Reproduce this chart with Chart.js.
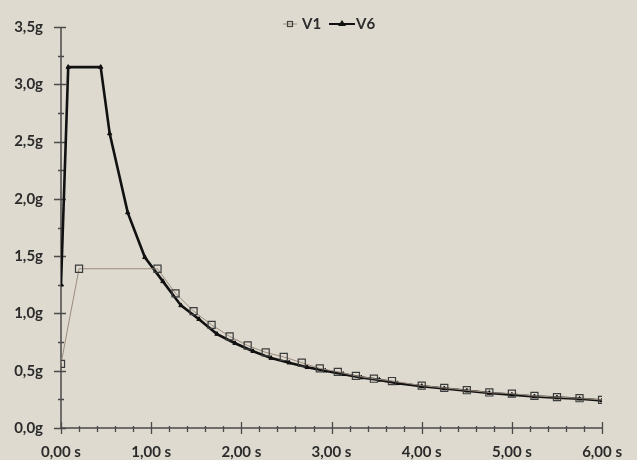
<!DOCTYPE html>
<html><head><meta charset="utf-8">
<script src="https://cdn.jsdelivr.net/npm/chart.js@4/dist/chart.umd.min.js"></script>
<style>html,body{margin:0;padding:0;background:#dedacf}</style>
</head><body>
<canvas id="c" width="637" height="460"></canvas>
<script>
const seriesNames = ['V1', 'V6'];
const v1Time   = [0, 0.2, 1.07, 1.27, 1.47, 1.67, 1.87, 2.07, 2.27, 2.47, 2.67, 2.87, 3.07, 3.27, 3.47, 3.67, 4.0, 4.25, 4.5, 4.75, 5.0, 5.25, 5.5, 5.75, 6.0];
const v1Values = [0.56, 1.39, 1.39, 1.175, 1.02, 0.90, 0.80, 0.72, 0.66, 0.62, 0.57, 0.52, 0.49, 0.455, 0.43, 0.41, 0.37, 0.35, 0.33, 0.31, 0.30, 0.28, 0.27, 0.26, 0.245];
const v6Time   = [0, 0.08, 0.44, 0.54, 0.74, 0.93, 1.13, 1.33, 1.53, 1.73, 1.93, 2.13, 2.33, 2.53, 2.73, 2.93, 3.13, 3.33, 3.53, 3.73, 4.0, 4.25, 4.5, 4.75, 5.0, 5.25, 5.5, 5.75, 6.0];
const v6Values = [1.25, 3.15, 3.15, 2.57, 1.88, 1.49, 1.28, 1.07, 0.95, 0.82, 0.74, 0.67, 0.61, 0.57, 0.53, 0.50, 0.47, 0.44, 0.42, 0.39, 0.365, 0.345, 0.325, 0.305, 0.29, 0.275, 0.265, 0.255, 0.24];
const xTickValues = [0, 1, 2, 3, 4, 5, 6];
const yTickValues = [0, 0.5, 1.0, 1.5, 2.0, 2.5, 3.0, 3.5];

const BG = '#dedacf';
const AX = '#4a4a4a';
const TXT = '#2b2b2b';
const FONT = { family: 'Lato', size: 15, weight: 'bold' };

const toPts = (t, v) => t.map((x, i) => ({x: x, y: v[i]}));

const axisPlugin = {
  id: 'axisPlugin',
  beforeDraw(chart) {
    const ctx = chart.ctx;
    ctx.save();
    ctx.fillStyle = BG;
    ctx.fillRect(0, 0, chart.width, chart.height);
    ctx.restore();
  },
  beforeDatasetsDraw(chart) {
    const ctx = chart.ctx, xs = chart.scales.x, ys = chart.scales.y;
    const x0 = xs.getPixelForValue(xs.min), x1 = xs.getPixelForValue(xs.max);
    const y0 = ys.getPixelForValue(ys.min), y1 = ys.getPixelForValue(ys.max);
    ctx.save();
    ctx.strokeStyle = AX;
    ctx.lineWidth = 1.5;
    ctx.beginPath();
    ctx.moveTo(x0, y1); ctx.lineTo(x0, y0); ctx.lineTo(x1, y0);
    ctx.stroke();
    ctx.lineWidth = 1.3;
    ctx.beginPath();
    for (let k = 0; k <= 14; k++) {
      const v = k * 0.25;
      const py = Math.round(ys.getPixelForValue(v)) + 0.5;
      if (k % 2 === 0) { ctx.moveTo(x0 - 7, py); ctx.lineTo(x0 + 5, py); }
      else { ctx.moveTo(x0 - 3, py); ctx.lineTo(x0 + 3, py); }
    }
    for (let k = 0; k <= 30; k++) {
      const v = k * 0.2;
      const px = Math.round(xs.getPixelForValue(v)) + 0.5;
      if (k % 5 === 0) { ctx.moveTo(px, y0 - 6); ctx.lineTo(px, y0 + 6); }
      else { ctx.moveTo(px, y0 - 2); ctx.lineTo(px, y0 + 4); }
    }
    ctx.stroke();
    ctx.restore();
  },
  afterDraw(chart) {
    const ctx = chart.ctx;
    const ds = chart.data.datasets;
    ctx.save();
    ctx.font = 'bold 15px Lato';
    ctx.fillStyle = TXT;
    ctx.textBaseline = 'middle';
    const cy = 24;
    ctx.strokeStyle = ds[0].borderColor; ctx.lineWidth = 1;
    ctx.beginPath(); ctx.moveTo(283, cy); ctx.lineTo(297, cy); ctx.stroke();
    ctx.strokeStyle = '#444'; ctx.lineWidth = 1.2;
    ctx.strokeRect(287.5, cy - 2.5, 5, 5);
    ctx.fillText(ds[0].label, 302, cy);
    ctx.strokeStyle = ds[1].borderColor; ctx.lineWidth = 2;
    ctx.beginPath(); ctx.moveTo(329, cy); ctx.lineTo(355, cy); ctx.stroke();
    ctx.fillStyle = '#111';
    ctx.beginPath(); ctx.moveTo(342, cy - 4); ctx.lineTo(346, cy + 2); ctx.lineTo(338, cy + 2); ctx.closePath(); ctx.fill();
    ctx.fillStyle = TXT;
    ctx.fillText(ds[1].label, 356, cy);
    ctx.restore();
  }
};

new Chart(document.getElementById('c'), {
  type: 'scatter',
  data: {
    datasets: [
      {
        label: seriesNames[0],
        data: toPts(v1Time, v1Values),
        showLine: true,
        borderColor: '#9c8c7e',
        borderWidth: 1,
        pointStyle: 'rect',
        pointRadius: 5,
        pointBorderColor: '#3c3c3c',
        pointBorderWidth: 1.2,
        pointBackgroundColor: 'rgba(0,0,0,0)',
        tension: 0
      },
      {
        label: seriesNames[1],
        data: toPts(v6Time, v6Values),
        showLine: true,
        borderColor: '#111111',
        borderWidth: 2.6,
        pointStyle: 'triangle',
        pointRadius: 2.5,
        pointBorderColor: '#111111',
        pointBorderWidth: 1,
        pointBackgroundColor: '#111111',
        tension: 0
      }
    ]
  },
  options: {
    responsive: false,
    animation: false,
    devicePixelRatio: 1,
    layout: { padding: { left: 0, right: 24, top: 20, bottom: 0 } },
    plugins: { legend: { display: false }, tooltip: { enabled: false } },
    scales: {
      x: {
        type: 'linear', min: 0, max: 6,
        afterFit: s => { s.height = 32; },
        afterBuildTicks: s => { s.ticks = xTickValues.map(v => ({value: v})); },
        grid: { display: false, drawTicks: false },
        border: { display: false },
        ticks: {
          color: TXT, font: FONT, padding: 15, maxRotation: 0,
          callback: v => v.toFixed(2).replace('.', ',') + ' s'
        }
      },
      y: {
        type: 'linear', min: 0, max: 3.5,
        afterFit: s => { s.width = 61; },
        afterBuildTicks: s => { s.ticks = yTickValues.map(v => ({value: v})); },
        grid: { display: false, drawTicks: false },
        border: { display: false },
        ticks: {
          color: TXT, font: FONT, padding: 18,
          callback: v => v.toFixed(1).replace('.', ',') + 'g'
        }
      }
    }
  },
  plugins: [axisPlugin]
});
</script>
</body></html>
